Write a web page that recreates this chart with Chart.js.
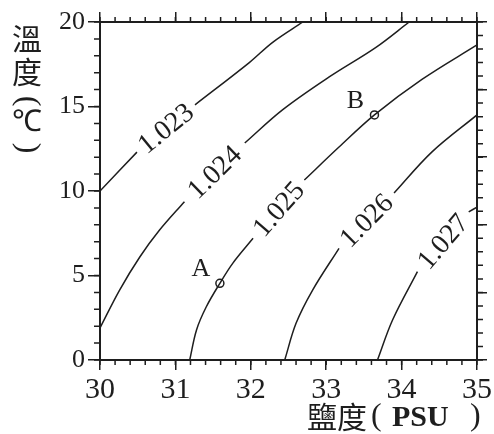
<!DOCTYPE html>
<html>
<head>
<meta charset="utf-8">
<script src="https://cdn.jsdelivr.net/npm/chart.js@4"></script>
<style>
  html, body { margin: 0; padding: 0; background: #fff; }
</style>
</head>
<body>
<canvas id="ts" width="494" height="434"></canvas>
<script>
// 等密度線 (鹽度 PSU, 溫度 °C)，null = 標數值的缺口
const densityLevels = ["1.023", "1.024", "1.025", "1.026", "1.027"];

const line1023 = [[30, 10], [30.49, 12.3], null, [31.26, 15.1], [31.98, 17.6], [32.29, 18.8], [32.69, 20]];
const line1024 = [[30, 1.9], [30.26, 4.14], [30.53, 6.11], [30.79, 7.69], [31.12, 9.37], null,
                  [31.92, 12.84], [32.42, 14.8], [33.04, 16.75], [33.66, 18.5], [34.1, 20]];
const line1025 = [[31.19, 0], [31.28, 1.78], [31.41, 3.15], [31.59, 4.54], [31.76, 5.72], [32.03, 7.2], null,
                  [32.71, 10.65], [33.17, 12.6], [33.64, 14.5], [34.27, 16.6], [35, 18.64]];
const line1026 = [[32.45, 0], [32.6, 2.17], [32.82, 4.14], [33.17, 6.61], null,
                  [33.9, 9.88], [34.4, 12.3], [35, 14.5]];
const line1027 = [[33.68, 0], [33.88, 2.37], [34.21, 5.23], null, [34.89, 8.76], [35, 9.05]];

const contours = [line1023, line1024, line1025, line1026, line1027];

// 水團 A、B
const pointNames = ["A", "B"];
const pointSalinity = [31.59, 33.64];
const pointTemp = [4.54, 14.5];

const ink = "#1e1e1e";
const serif = "'Liberation Serif', 'Noto Sans CJK TC'";

// 小刻度
const minorTicks = {
  id: "minorTicks",
  afterDraw(chart) {
    const { ctx, chartArea: a, scales } = chart;
    ctx.save();
    ctx.strokeStyle = ink;
    ctx.lineWidth = 1.5;
    ctx.beginPath();
    for (let v = 30; v <= 35.001; v += 0.2) {
      const px = scales.x.getPixelForValue(v);
      ctx.moveTo(px, a.bottom); ctx.lineTo(px, a.bottom + 5);
      ctx.moveTo(px, a.top); ctx.lineTo(px, a.top - 5);
    }
    for (let v = 0; v <= 20; v += 1) {
      const py = scales.y.getPixelForValue(v);
      ctx.moveTo(a.left, py); ctx.lineTo(a.left - 6, py);
    }
    for (let v = 0; v <= 5.001; v += 0.2) {
      const py = scales.y2.getPixelForValue(v);
      ctx.moveTo(a.right, py); ctx.lineTo(a.right + 6, py);
    }
    ctx.stroke();
    ctx.restore();
  }
};

// 等密度線數值、A B 標記
const contourLabels = {
  id: "contourLabels",
  afterDatasetsDraw(chart) {
    const { ctx, scales: { x, y } } = chart;
    ctx.save();
    ctx.fillStyle = ink;
    ctx.font = "28px " + serif;
    ctx.textAlign = "center";
    ctx.textBaseline = "middle";
    contours.forEach((line, i) => {
      const k = line.indexOf(null);
      const p = line[k - 1], q = line[k + 1];
      const x1 = x.getPixelForValue(p[0]), y1 = y.getPixelForValue(p[1]);
      const x2 = x.getPixelForValue(q[0]), y2 = y.getPixelForValue(q[1]);
      ctx.save();
      ctx.translate((x1 + x2) / 2, (y1 + y2) / 2);
      ctx.rotate(Math.atan2(y2 - y1, x2 - x1));
      ctx.fillText(densityLevels[i], 0, 1);
      ctx.restore();
    });
    ctx.font = "26px " + serif;
    pointNames.forEach((name, i) => {
      const px = x.getPixelForValue(pointSalinity[i]);
      const py = y.getPixelForValue(pointTemp[i]);
      ctx.fillText(name, px - 19, py - 14);
    });
    ctx.restore();
  }
};

// 軸標題（直排溫度、橫排鹽度）
const axisTitles = {
  id: "axisTitles",
  afterDraw(chart) {
    const { ctx } = chart;
    ctx.save();
    ctx.fillStyle = ink;
    ctx.textAlign = "center";
    ctx.textBaseline = "middle";
    ctx.font = "30px 'Noto Sans CJK TC'";
    ctx.fillText("溫", 27, 39);
    ctx.fillText("度", 27, 72);
    ctx.font = "30px 'Liberation Serif'";
    ctx.fillText("℃", 27, 123);
    // 直排括號：橫排括號轉 90 度
    ctx.font = "32px 'Liberation Serif'";
    [["(", 101], [")", 148]].forEach(([ch, cy]) => {
      ctx.save();
      ctx.translate(27, cy);
      ctx.rotate(Math.PI / 2);
      ctx.fillText(ch, 0, 0);
      ctx.restore();
    });
    ctx.textAlign = "left";
    ctx.font = "30px 'Noto Sans CJK TC'";
    ctx.fillText("鹽度", 307, 417);
    ctx.font = "32px 'Liberation Serif'";
    ctx.fillText("(", 371, 417);
    ctx.fillText(")", 470, 417);
    ctx.font = "bold 30px 'Liberation Serif'";
    ctx.fillText("PSU", 392, 418);
    ctx.restore();
  }
};

const axisBase = {
  border: { color: ink, width: 2 },
  grid: { drawOnChartArea: false, color: ink, lineWidth: 1.5, tickLength: 10 }
};

new Chart(document.getElementById("ts"), {
  type: "scatter",
  data: {
    datasets: [
      ...contours.map((line, i) => ({
        label: densityLevels[i],
        data: line.map((p) => (p ? { x: p[0], y: p[1] } : { x: null, y: null })),
        showLine: true,
        spanGaps: false,
        borderColor: ink,
        borderWidth: 1.5,
        pointRadius: 0,
        tension: 0.35
      })),
      {
        label: "水團",
        data: pointSalinity.map((s, i) => ({ x: s, y: pointTemp[i] })),
        pointRadius: 4,
        pointBorderWidth: 1.5,
        pointBackgroundColor: "#fff",
        pointBorderColor: ink
      }
    ]
  },
  options: {
    responsive: false,
    animation: false,
    devicePixelRatio: 1,
    layout: { padding: 0 },
    plugins: { legend: { display: false }, tooltip: { enabled: false } },
    scales: {
      x: {
        ...axisBase,
        type: "linear", position: "bottom", min: 30, max: 35,
        ticks: { stepSize: 1, color: ink, padding: 2, font: { family: serif, size: 30 } },
        afterFit: (s) => { s.height = 74; }
      },
      y: {
        ...axisBase,
        grid: { ...axisBase.grid, tickLength: 12 },
        type: "linear", position: "left", min: 0, max: 20,
        ticks: { stepSize: 5, color: ink, padding: 3, font: { family: serif, size: 26 } },
        afterFit: (s) => { s.width = 100; }
      },
      x2: {
        ...axisBase,
        type: "linear", position: "top", min: 30, max: 35,
        ticks: { stepSize: 1, display: false },
        afterFit: (s) => { s.height = 22; }
      },
      y2: {
        ...axisBase,
        type: "linear", position: "right", min: 0, max: 5,
        ticks: { stepSize: 1, display: false },
        afterFit: (s) => { s.width = 16; }
      }
    }
  },
  plugins: [minorTicks, contourLabels, axisTitles]
});
</script>
</body>
</html>
